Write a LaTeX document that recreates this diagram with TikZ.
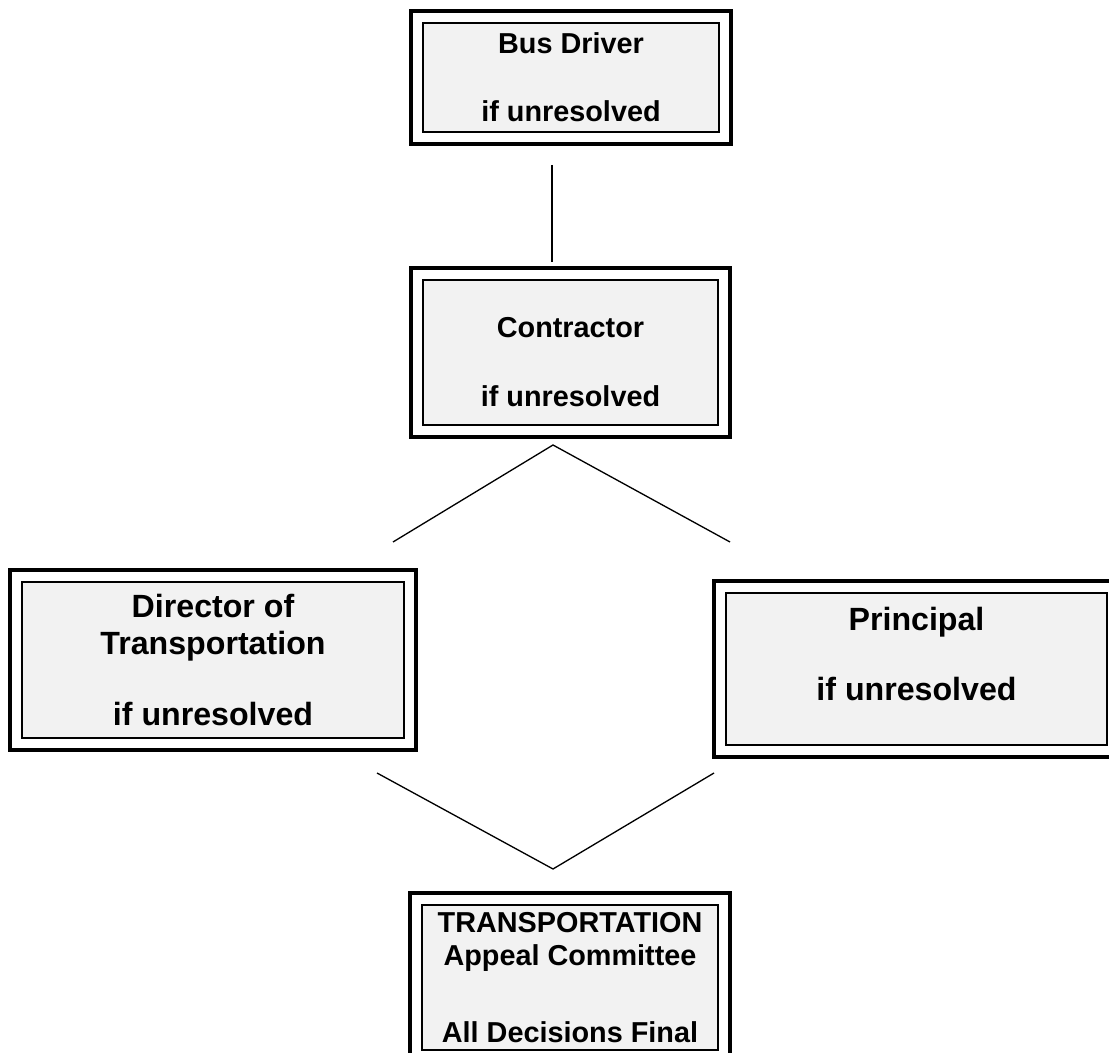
\documentclass[tikz,border=0pt]{standalone}
\usepackage{fontspec}
\setmainfont{Liberation Sans}
\usepackage{tikz}
\usetikzlibrary{positioning}
\definecolor{boxgray}{RGB}{242,242,242}

\begin{document}
\begin{tikzpicture}[x=0.02cm,y=-0.02cm,
  box/.style={draw,line width=0.85pt,fill=boxgray,align=center,inner sep=0pt,
    font=\bfseries\fontsize{16.4}{18.8}\selectfont},
  bigbox/.style={box,font=\bfseries\fontsize{18.3}{21}\selectfont},
  outerframe/.style={line width=2.3pt},
  link/.style={line width=0.75pt}]
\useasboundingbox (0,0) rectangle (1109,1053);
%boxes
\node[box,minimum width=5.92cm,minimum height=2.18cm] (bus) at (571,77.5) {Bus Driver\\[1.2em]if unresolved};
\node[box,minimum width=5.90cm,minimum height=2.90cm] (contr) at (570.5,352.5) {\rule{0pt}{22pt}Contractor\\[1.25em]if unresolved};
\node[bigbox,minimum width=7.64cm,minimum height=3.12cm] (dir) at (213,660) {Director of\\Transportation\\[1.05em]if unresolved};
\node[bigbox,minimum width=7.62cm,minimum height=3.04cm,text depth=0.6cm] (princ) at (916.5,669) {Principal\\[1.05em]if unresolved};
\node[box,minimum width=5.92cm,minimum height=2.90cm] (appeal) at (570,977.5) {TRANSPORTATION\\Appeal Committee\\[1.5em]All Decisions Final};
\foreach \n in {bus,contr,dir,princ,appeal}
  \draw[outerframe] ([shift={(-11,11)}]\n.south west) rectangle ([shift={(11,-11)}]\n.north east);
%lines
\coordinate (t1) at (552,165);
\coordinate (t2) at (552,262);
\coordinate (up) at (553,445);
\coordinate (ul) at (393,542);
\coordinate (ur) at (730,542);
\coordinate (lo) at (553,869);
\coordinate (ll) at (377,773);
\coordinate (lr) at (714,773);
\draw[link] (t1) -- (t2);
\draw[link] (ul) -- (up) -- (ur);
\draw[link] (ll) -- (lo) -- (lr);
\end{tikzpicture}
\end{document}
